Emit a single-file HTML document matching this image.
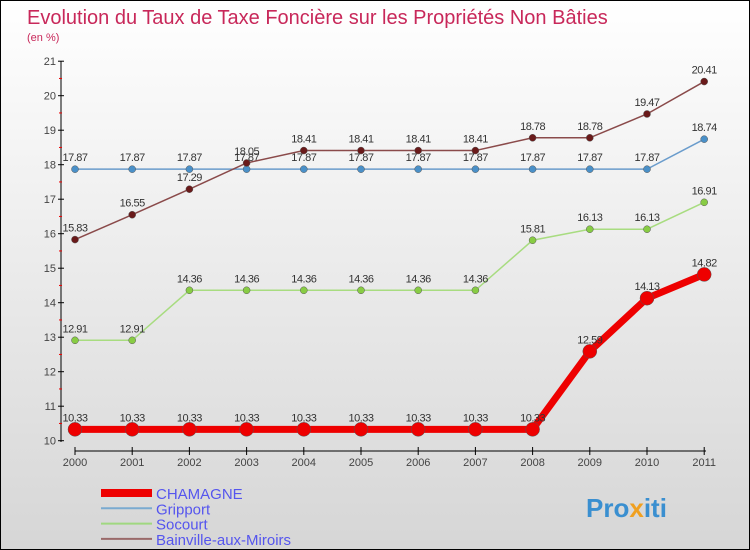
<!DOCTYPE html>
<html><head><meta charset="utf-8"><style>
body{margin:0;}
#c{position:relative;width:748px;height:548px;border:1px solid #000;background:linear-gradient(#fff,#d6d6d6);font-family:"Liberation Sans",sans-serif;overflow:hidden;}
svg text{font-family:"Liberation Sans",sans-serif;}
</style></head><body>
<div id="c">
<svg id="s" width="748" height="548">
<text x="26" y="23" font-size="20" fill="#c8285a">Evolution du Taux de Taxe Foncière sur les Propriétés Non Bâties</text>
<text x="26" y="40" font-size="11" fill="#c8285a">(en %)</text>
<text x="585" y="516" font-size="26" font-weight="bold" fill="#3a8fd0">Pro<tspan fill="#f0a020">x</tspan>iti</text>
</svg>
</div>
<script>
const years=[2000,2001,2002,2003,2004,2005,2006,2007,2008,2009,2010,2011];
const yTicks=[10,11,12,13,14,15,16,17,18,19,20,21];
const chamagne=[10.33,10.33,10.33,10.33,10.33,10.33,10.33,10.33,10.33,12.59,14.13,14.82];
const gripport=[17.87,17.87,17.87,17.87,17.87,17.87,17.87,17.87,17.87,17.87,17.87,18.74];
const socourt=[12.91,12.91,14.36,14.36,14.36,14.36,14.36,14.36,15.81,16.13,16.13,16.91];
const bainville=[15.83,16.55,17.29,18.05,18.41,18.41,18.41,18.41,18.78,18.78,19.47,20.41];
const names=["CHAMAGNE","Gripport","Socourt","Bainville-aux-Miroirs"];
const NS="http://www.w3.org/2000/svg";
const svg=document.getElementById('s');
const X=i=>74+i*57.2;
const Y=v=>439.7-(v-10)*34.5;
function el(t,a,p){const e=document.createElementNS(NS,t);for(const k in a)e.setAttribute(k,a[k]);(p||svg).appendChild(e);return e;}
// axes
let ax=el('line',{x1:60,y1:60,x2:60,y2:441,stroke:'#000'});


let xa=el('line',{x1:74,y1:450,x2:705,y2:450,stroke:'#000'});


yTicks.forEach(v=>{
 el('line',{x1:57,y1:Y(v),x2:63,y2:Y(v),stroke:'#000'});
 if(v<21)el('line',{x1:58,y1:Y(v+0.5),x2:61,y2:Y(v+0.5),stroke:'#e00'});
 const t=el('text',{x:55,y:Y(v)+4,'font-size':11,fill:'#444','text-anchor':'end'});t.textContent=v;
 
 
});
years.forEach((y,i)=>{
 el('line',{x1:X(i),y1:446,x2:X(i),y2:454,stroke:'#000'});
 const t=el('text',{x:X(i),y:465,'font-size':11,fill:'#444','text-anchor':'middle'});t.textContent=y;
 
 
});
function series(data,color,dot,w,r,nm){
 const p=el('polyline',{points:data.map((v,i)=>X(i)+','+Y(v)).join(' '),fill:'none',stroke:color,'stroke-width':w});
 
 
 data.forEach((v,i)=>{
  const c=el('circle',{cx:X(i),cy:Y(v),r:r,fill:dot,stroke:'#555','stroke-width':0.5});
  
  
  const t=el('text',{x:X(i),y:Y(v)-8,'font-size':11,fill:'#333','text-anchor':'middle','letter-spacing':'-0.5'});t.textContent=v.toFixed(2).replace(/0$/,'').replace(/\.$/,'');
  
  
 });
}
series(socourt,'#a8dc80','#88cc44',1.5,3.5,'socourt');
series(gripport,'#6a9ccc','#4a90c8',1.5,3.5,'gripport');
series(bainville,'#8a4a4a','#6a1a1a',1.5,3.5,'bainville');
series(chamagne,'#ee0000','#ee0000',7,7,'chamagne');
const lc=['#ee0000','#7aaad0','#a0d880','#9a6a6a'],lw=[8,2,2,2];
names.forEach((n,i)=>{
 const yy=492+i*15.3;
 const l=el('line',{x1:100,y1:yy,x2:151,y2:yy,stroke:lc[i],'stroke-width':lw[i]});
 
 
 const t=el('text',{x:155,y:yy+6,'font-size':15,fill:'#5555ee'});t.textContent=n;
 
 
});
</script>
</body></html>
